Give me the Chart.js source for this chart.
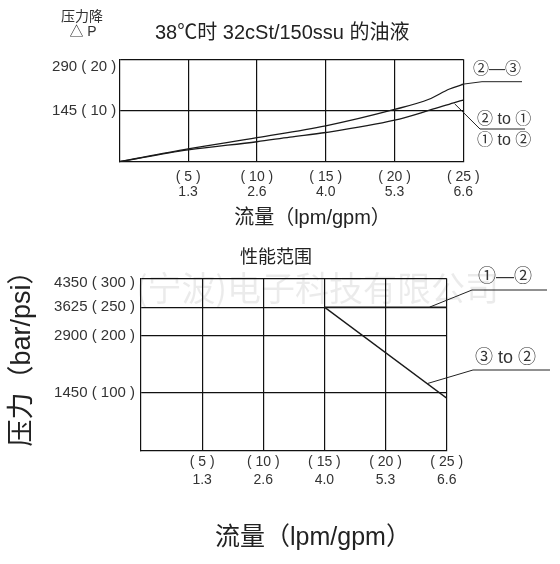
<!DOCTYPE html>
<html>
<head>
<meta charset="utf-8">
<script src="https://cdn.jsdelivr.net/npm/chart.js@4.4.1/dist/chart.umd.min.js"></script>
<style>
  html, body { margin: 0; padding: 0; background: #ffffff; }
  #wrap { position: relative; width: 560px; height: 564px; }
  canvas { position: absolute; left: 0; top: 0; }
</style>
</head>
<body>
<div id="wrap">
  <canvas id="c1" width="560" height="564"></canvas>
  <canvas id="c2" width="560" height="564"></canvas>
</div>
<script>
// ---------- data ----------
const xLpmTicks = [5, 10, 15, 20, 25];
const xGpmLabels = ['1.3', '2.6', '4.0', '5.3', '6.6'];

// top chart: pressure drop (bar) vs flow (lpm)
const topYBar = [10, 20];
const topYPsi = ['145', '290'];
const upperLpm = [0, 5, 10, 15, 20, 22.5, 24, 25];            // ②→③
const upperBar = [0, 2.5, 4.7, 7.0, 10.2, 12.2, 14.2, 15.1];
const lowerLpm = [0, 5, 10, 12.4, 15, 20, 22.6, 24.3, 25];     // ②→① / ①→②
const lowerBar = [0, 2.3, 3.9, 4.8, 5.7, 8.1, 10.1, 11.5, 12.05];

// bottom chart: performance range (bar) vs flow (lpm)
const botYBar = [100, 200, 250, 300];
const botYPsi = ['1450', '2900', '3625', '4350'];
const s12Lpm = [15, 25];   // ①→②
const s12Bar = [250, 250];
const s32Lpm = [15, 25];   // ③ to ②
const s32Bar = [250, 91];

// ---------- helpers ----------
const FONT = '"Liberation Sans", "Noto Sans CJK SC", sans-serif';
const INK = '#111';
const TXT = '#333';
const pts = (xs, ys) => xs.map((x, i) => ({ x: x, y: ys[i] }));

function text(ctx, s, x, y, size, align, color) {
  ctx.save();
  ctx.font = size + 'px ' + FONT;
  ctx.fillStyle = color || TXT;
  ctx.textAlign = align || 'left';
  ctx.textBaseline = 'middle';
  ctx.fillText(s, x, y);
  ctx.restore();
}
function line(ctx, a, b, c, d, w) {
  ctx.save();
  ctx.strokeStyle = '#222';
  ctx.lineWidth = w || 1;
  ctx.beginPath(); ctx.moveTo(a, b); ctx.lineTo(c, d); ctx.stroke();
  ctx.restore();
}

function xScale(pad, size, lh) {
  return {
    type: 'linear', min: 0, max: 25,
    afterBuildTicks: s => { s.ticks = xLpmTicks.map(v => ({ value: v })); },
    ticks: {
      autoSkip: false, maxRotation: 0, padding: pad, color: TXT,
      font: { family: FONT, size: size, lineHeight: lh },
      callback: v => ['( ' + v + ' )', xGpmLabels[xLpmTicks.indexOf(v)]]
    },
    grid: { color: INK, lineWidth: 1.2, drawTicks: false },
    border: { color: INK, width: 1.2 },
    afterFit: s => { s.height = 60; }
  };
}
// the top-most label sits a little below its line in the reference:
// it is given as a two-line label with an empty first line
function yScale(max, bars, psis, width, size, pad, topShiftLH) {
  return {
    type: 'linear', min: 0, max: max,
    afterBuildTicks: s => { s.ticks = bars.map(v => ({ value: v })); },
    ticks: {
      autoSkip: false, padding: pad, color: TXT,
      font: { family: FONT, size: size, lineHeight: topShiftLH },
      callback: v => {
        const s = psis[bars.indexOf(v)] + ' ( ' + v + ' )';
        return v === max ? ['', s] : s;
      }
    },
    grid: { color: INK, lineWidth: 1.2, drawTicks: false },
    border: { color: INK, width: 1.2 },
    afterFit: s => { s.width = width; }
  };
}
const ds = (data) => ({
  data: data, borderColor: '#1a1a1a', borderWidth: 1.3, pointRadius: 0,
  fill: false, cubicInterpolationMode: 'monotone'
});

// ---------- top chart ----------
const topNotes = {
  id: 'topNotes',
  afterDraw(chart) {
    const ctx = chart.ctx, sx = chart.scales.x, sy = chart.scales.y;
    text(ctx, '压力降', 82, 17, 14, 'center');
    text(ctx, '△ P', 83, 32, 14, 'center');
    text(ctx, '38℃时 32cSt/150ssu 的油液', 155, 33, 20, 'left', '#222');
    text(ctx, '流量（lpm/gpm）', 312.5, 218, 20, 'center', '#222');
    // ②→③ label
    const ux = sx.getPixelForValue(25), uy = sy.getPixelForValue(upperBar[upperBar.length - 1]);
    line(ctx, ux - 2, uy, 482, 81.7);
    line(ctx, 482, 81.7, 522, 81.7);
    text(ctx, '②—③', 473, 70, 16);
    // ②to① / ①to② label
    const lx = sx.getPixelForValue(24.3), ly = sy.getPixelForValue(11.5);
    line(ctx, lx + 1, ly + 1, 480, 129);
    line(ctx, 480, 129, 525, 129);
    text(ctx, '② to ①', 477, 120, 16);
    text(ctx, '① to ②', 477, 141, 16);
  }
};
new Chart(document.getElementById('c1'), {
  type: 'line',
  data: { datasets: [ds(pts(upperLpm, upperBar)), ds(pts(lowerLpm, lowerBar))] },
  options: {
    responsive: false, animation: false,
    layout: { padding: { left: 0, right: 96.7, top: 59.3, bottom: 564 - 161.7 - 60 } },
    plugins: { legend: { display: false }, tooltip: { enabled: false } },
    scales: { x: xScale(7.6, 14, 1.1), y: yScale(20, topYBar, topYPsi, 119.3, 15, 3, '16px') }
  },
  plugins: [topNotes]
});

// ---------- bottom chart ----------
const botNotes = {
  id: 'botNotes',
  beforeDraw(chart) {
    const ctx = chart.ctx;
    ctx.save();
    ctx.font = '34px "Noto Sans CJK SC", sans-serif';
    ctx.fillStyle = 'rgba(0,0,0,0.08)';
    ctx.textBaseline = 'middle';
    ctx.fillText('(宁波)电子科技有限公司', 136, 288);
    ctx.restore();
  },
  afterDraw(chart) {
    const ctx = chart.ctx, sx = chart.scales.x, sy = chart.scales.y;
    text(ctx, '性能范围', 240, 258, 18, 'left', '#222');
    text(ctx, '流量（lpm/gpm）', 313, 538, 25, 'center', '#222');
    ctx.save();
    ctx.translate(23, 352);
    ctx.rotate(-Math.PI / 2);
    text(ctx, '压力（bar/psi）', 0, 0, 27, 'center', '#222');
    ctx.restore();
    // ①→②
    const ax = sx.getPixelForValue(23.6), ay = sy.getPixelForValue(250);
    line(ctx, ax, ay, 472, 290);
    line(ctx, 472, 290, 547, 290);
    text(ctx, '①—②', 478, 277, 18);
    // ③ to ②
    const bx = sx.getPixelForValue(23.4), by = sy.getPixelForValue(250 - (23.4 - 15) / 10 * (250 - 91));
    line(ctx, bx, by, 473, 370);
    line(ctx, 473, 370, 550, 370);
    text(ctx, '③ to ②', 475, 358, 18);
  }
};
new Chart(document.getElementById('c2'), {
  type: 'line',
  data: { datasets: [ds(pts(s12Lpm, s12Bar)), ds(pts(s32Lpm, s32Bar))] },
  options: {
    responsive: false, animation: false,
    layout: { padding: { left: 0, right: 560 - 446.7, top: 278.5, bottom: 564 - 450.3 - 60 } },
    plugins: { legend: { display: false }, tooltip: { enabled: false } },
    scales: { x: xScale(2.3, 14, 1.3), y: yScale(300, botYBar, botYPsi, 141, 15, 6, '8px') }
  },
  plugins: [botNotes]
});
</script>
</body>
</html>
